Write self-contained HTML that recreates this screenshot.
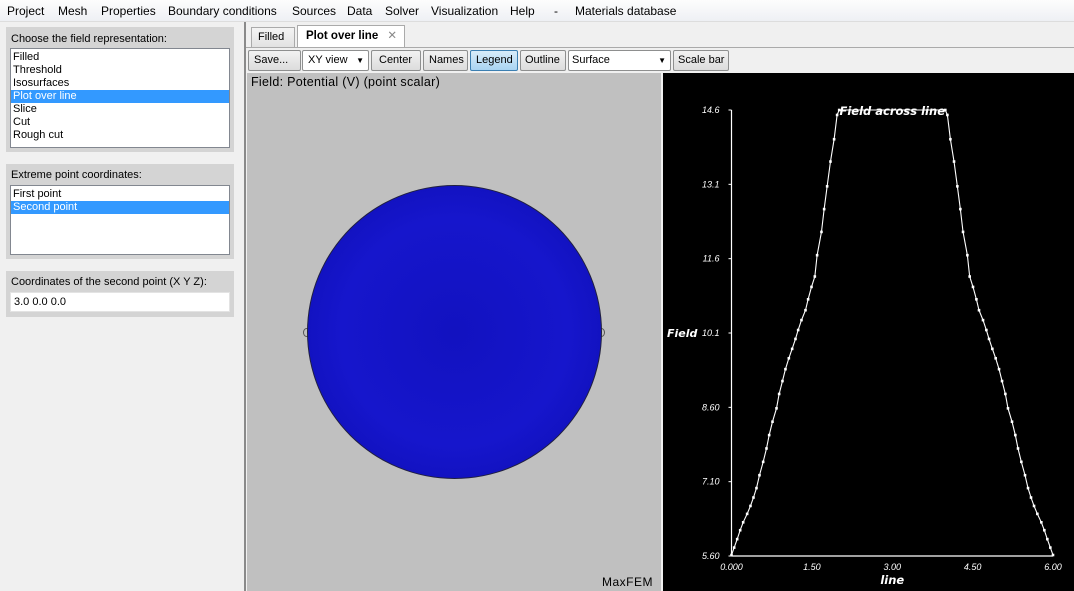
<!DOCTYPE html>
<html><head><meta charset="utf-8"><style>
*{box-sizing:border-box;margin:0;padding:0}
body{width:1074px;height:591px;overflow:hidden;background:#f0f0f0;font-family:"Liberation Sans",sans-serif;font-size:12px;color:#000;position:relative}
.abs{position:absolute;white-space:nowrap}
.menu{left:0;top:0;width:1074px;height:22px;background:linear-gradient(#fdfdfd,#eef0f4);border-bottom:1px solid #ddd}
.menu span{position:absolute;top:4px;font-size:12px}
.grp{background:#d4d4d4;left:6px;width:228px}
.lbl{font-size:11px;left:5px}
.list{background:#fff;border:1px solid #828790;left:4px;width:220px}
.list div{height:13px;line-height:13px;padding-left:2px;font-size:11px}
.sel{background:#3399ff;color:#fff}
.btn{top:50px;height:21px;border:1px solid #8e8f8f;border-radius:2px;background:linear-gradient(#f2f2f2,#dcdcdc);font-size:11px;line-height:19px;padding-left:5px;overflow:hidden}
</style></head><body>
<div class="abs menu">
<span style="left:7px">Project</span>
<span style="left:58px">Mesh</span>
<span style="left:101px">Properties</span>
<span style="left:168px">Boundary conditions</span>
<span style="left:292px">Sources</span>
<span style="left:347px">Data</span>
<span style="left:385px">Solver</span>
<span style="left:431px">Visualization</span>
<span style="left:510px">Help</span>
<span style="left:554px">-</span>
<span style="left:575px">Materials database</span>
</div>

<div class="abs grp" style="top:27px;height:125px">
<div class="abs lbl" style="top:6px">Choose the field representation:</div>
<div class="abs list" style="top:21px;height:100px">
<div style="margin-top:2px">Filled</div>
<div>Threshold</div>
<div>Isosurfaces</div>
<div class="sel">Plot over line</div>
<div>Slice</div>
<div>Cut</div>
<div>Rough cut</div>
</div></div>

<div class="abs grp" style="top:164px;height:95px">
<div class="abs lbl" style="top:5px">Extreme point coordinates:</div>
<div class="abs list" style="top:21px;height:70px">
<div style="margin-top:2px">First point</div>
<div class="sel">Second point</div>
</div></div>

<div class="abs grp" style="top:271px;height:46px">
<div class="abs lbl" style="top:5px">Coordinates of the second point (X Y Z):</div>
<div class="abs" style="left:4px;top:21px;width:220px;height:20px;background:#fff;border:1px solid #e3e3e3;font-size:11px;line-height:18px;padding-left:3px">3.0 0.0 0.0</div>
</div>

<div class="abs" style="left:244px;top:22px;width:2px;height:569px;background:#8a8a8a"></div>

<div class="abs" style="left:251px;top:27px;width:44px;height:20px;border:1px solid #aaa;border-bottom:none;background:linear-gradient(#f4f4f4,#e2e2e2);font-size:11px;line-height:19px;padding-left:6px">Filled</div>
<div class="abs" style="left:297px;top:25px;width:108px;height:22px;border:1px solid #aaa;border-bottom:none;background:#fff;font-size:11.5px;font-weight:bold;line-height:21px;padding-left:8px">Plot over line <span style="font-weight:normal;color:#888;margin-left:6px">✕</span></div>
<div class="abs" style="left:246px;top:47px;width:828px;height:1px;background:#aaa"></div>

<div class="abs btn" style="left:248px;width:53px">Save...</div>
<div class="abs btn" style="left:302px;width:67px;background:#fff">XY view <span style="position:absolute;right:4px;font-size:8px">▼</span></div>
<div class="abs btn" style="left:371px;width:50px;padding-left:7px">Center</div>
<div class="abs btn" style="left:423px;width:45px;padding-left:5px">Names</div>
<div class="abs btn" style="left:470px;width:48px;background:linear-gradient(#d8ecf9,#a9d4f2);border-color:#3c7fb1">Legend</div>
<div class="abs btn" style="left:520px;width:46px;padding-left:4px">Outline</div>
<div class="abs btn" style="left:568px;width:103px;background:#fff;padding-left:3px">Surface <span style="position:absolute;right:4px;font-size:8px">▼</span></div>
<div class="abs btn" style="left:673px;width:56px;padding-left:4px">Scale bar</div>

<div class="abs" style="left:247px;top:73px;width:414px;height:518px;background:#c0c0c0">
<div class="abs" style="left:4px;top:2px;font-size:12.5px;letter-spacing:0.3px">Field: Potential (V) (point scalar)</div>
<div class="abs" style="left:56px;top:255px;width:7px;height:9px;border:1px solid #555;border-radius:50%"></div>
<div class="abs" style="left:351px;top:255px;width:7px;height:9px;border:1px solid #555;border-radius:50%"></div>
<div class="abs" style="left:60px;top:112px;width:295px;height:294px;border-radius:50%;background:radial-gradient(circle at 50% 50%,#1212c0 0%,#1616cc 55%,#0f0fb8 85%,#0a0a98 100%);border:1px solid #202040"></div>
<div class="abs" style="left:355px;top:502px;font-size:12px;letter-spacing:0.5px">MaxFEM</div>
</div>

<div class="abs" style="left:663px;top:73px;width:411px;height:518px;background:#000">
<svg id="chart" width="411" height="518" style="position:absolute;left:0;top:0"></svg>
</div>

<script>
const xTicks=["0.000","1.50","3.00","4.50","6.00"];
const xTickVals=[0,1.5,3,4.5,6];
const yTicks=["5.60","7.10","8.60","10.1","11.6","13.1","14.6"];
const yTickVals=[5.6,7.1,8.6,10.1,11.6,13.1,14.6];
const xs=[0,0.05,0.106,0.162,0.218,0.292,0.354,0.41,0.466,0.522,0.591,0.653,0.703,0.765,0.84,0.889,0.951,1.007,1.07,1.132,1.194,1.244,1.306,1.381,1.43,1.493,1.555,1.598,1.679,1.729,1.785,1.847,1.915,1.971,2.01,
3.99,4.029,4.085,4.153,4.215,4.271,4.321,4.402,4.445,4.507,4.57,4.619,4.694,4.756,4.806,4.868,4.93,4.993,5.049,5.111,5.16,5.235,5.297,5.347,5.409,5.478,5.534,5.59,5.646,5.708,5.782,5.838,5.894,5.95,6];
const ys=[5.62,5.77,5.94,6.12,6.28,6.45,6.61,6.78,6.97,7.23,7.5,7.77,8.04,8.31,8.58,8.87,9.13,9.37,9.59,9.78,9.98,10.16,10.36,10.56,10.78,11.03,11.24,11.67,12.14,12.6,13.06,13.56,14.01,14.5,14.6,
14.6,14.5,14.01,13.56,13.06,12.6,12.14,11.67,11.24,11.03,10.78,10.56,10.36,10.16,9.98,9.78,9.59,9.37,9.13,8.87,8.58,8.31,8.04,7.77,7.5,7.23,6.97,6.78,6.61,6.45,6.28,6.12,5.94,5.77,5.62];
const NS="http://www.w3.org/2000/svg";
const svg=document.getElementById('chart');
const X0=68.5,X1=390,Y0=483,Y1=37;
function sx(v){return X0+(v-0)/(6-0)*(X1-X0);}
function sy(v){return Y0-(v-5.6)/(14.6-5.6)*(Y0-Y1);}
function mk(t,a){const e=document.createElementNS(NS,t);for(const k in a)e.setAttribute(k,a[k]);svg.appendChild(e);return e;}
const ya=mk('line',{x1:X0,y1:Y1,x2:X0,y2:Y0,stroke:'#fff','stroke-width':1.2});


const xa=mk('line',{x1:X0,y1:Y0,x2:X1,y2:Y0,stroke:'#fff','stroke-width':1.2});


const ts='fill:#fff;font-family:"Liberation Sans",sans-serif;font-style:italic;font-size:9px';
const tb='fill:#fff;font-family:"DejaVu Sans","Liberation Sans",sans-serif;font-style:italic;font-weight:bold;font-size:11.5px';
yTickVals.forEach((v,i)=>{
 const t=mk('text',{x:X0-12,y:sy(v)+3,'text-anchor':'end',style:ts});t.textContent=yTicks[i];
 
 
 const l=mk('line',{x1:X0-3,y1:sy(v),x2:X0,y2:sy(v),stroke:'#fff'});
 
 
});
xTickVals.forEach((v,i)=>{
 const t=mk('text',{x:sx(v),y:Y0+14,'text-anchor':'middle',style:ts});t.textContent=xTicks[i];
 
 
});
const xt=mk('text',{x:sx(3),y:Y0+28,'text-anchor':'middle',style:tb});xt.textContent='line';


const yt=mk('text',{x:4,y:sy(10.1)+4,style:tb.replace('11.5px','11px')});yt.textContent='Field';


const pl=mk('polyline',{points:xs.map((x,i)=>sx(x)+','+sy(ys[i])).join(' '),fill:'none',stroke:'#fff','stroke-width':1.1});


xs.forEach((x,i)=>{
 const r=mk('rect',{x:sx(x)-1.3,y:sy(ys[i])-1.3,width:2.6,height:2.6,fill:'#fff'});
 
 
});
const ti=mk('text',{x:sx(3),y:Y1+5,'text-anchor':'middle',style:tb});ti.textContent='Field across line';


</script>
</body></html>
